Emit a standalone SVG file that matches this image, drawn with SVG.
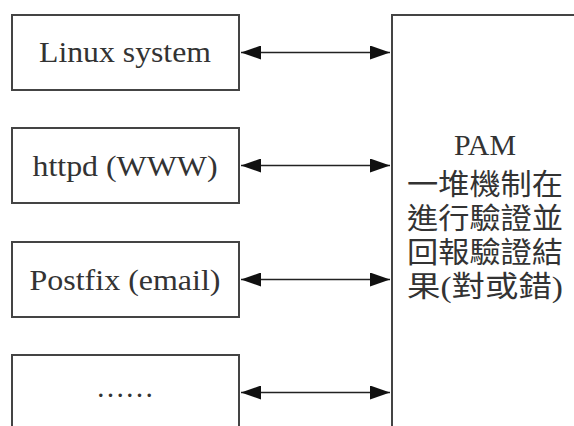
<svg xmlns="http://www.w3.org/2000/svg" width="574" height="426" viewBox="0 0 574 426">
<style>
.box{fill:#fff;stroke:#444;stroke-width:2}
.t{font-family:"Liberation Serif","Noto Serif CJK TC","Noto Sans CJK TC",serif;font-size:29px;fill:#333;text-anchor:middle}
.c{font-family:"Liberation Serif","Noto Sans CJK TC",serif;font-size:29px;fill:#333;text-anchor:middle}
.ln{stroke:#222;stroke-width:1.6;fill:none;marker-start:url(#a);marker-end:url(#a)}
</style>
<defs>
<marker id="a" viewBox="0 0 20 14" refX="20" refY="7" markerWidth="20" markerHeight="14" markerUnits="userSpaceOnUse" orient="auto-start-reverse">
<path d="M0,0 L20,7 L0,14 Z" fill="#111"/>
</marker>
</defs>
<rect width="574" height="426" fill="#fff"/>
<g id="n1"><rect class="box" x="12" y="15" width="227" height="75"/><text class="t" x="125" y="62" textLength="172" lengthAdjust="spacingAndGlyphs">Linux system</text></g>
<g id="n2"><rect class="box" x="12" y="128" width="227" height="75"/><text class="t" x="125" y="176" textLength="185" lengthAdjust="spacingAndGlyphs">httpd (WWW)</text></g>
<g id="n3"><rect class="box" x="12" y="242" width="227" height="75"/><text class="t" x="125" y="290" textLength="191" lengthAdjust="spacingAndGlyphs">Postfix (email)</text></g>
<g id="n4"><rect class="box" x="12" y="355" width="227" height="80"/><text class="t" x="125" y="397" textLength="58" lengthAdjust="spacingAndGlyphs">……</text></g>
<g id="pam"><rect class="box" x="392" y="15" width="200" height="430"/>
<text class="c" x="485" y="155" textLength="62" lengthAdjust="spacingAndGlyphs">PAM</text>
<text class="c" x="485" y="195" textLength="156" lengthAdjust="spacingAndGlyphs">一堆機制在</text>
<text class="c" x="485" y="229" textLength="156" lengthAdjust="spacingAndGlyphs">進行驗證並</text>
<text class="c" x="485" y="263" textLength="156" lengthAdjust="spacingAndGlyphs">回報驗證結</text>
<text class="c" x="485" y="297" textLength="156" lengthAdjust="spacingAndGlyphs">果(對或錯)</text>
</g>
<g id="connectors">
<line class="ln" x1="241" y1="52.5" x2="390" y2="52.5"/>
<line class="ln" x1="241" y1="165.5" x2="390" y2="165.5"/>
<line class="ln" x1="241" y1="279.5" x2="390" y2="279.5"/>
<line class="ln" x1="241" y1="392.5" x2="390" y2="392.5"/>
</g>
</svg>
